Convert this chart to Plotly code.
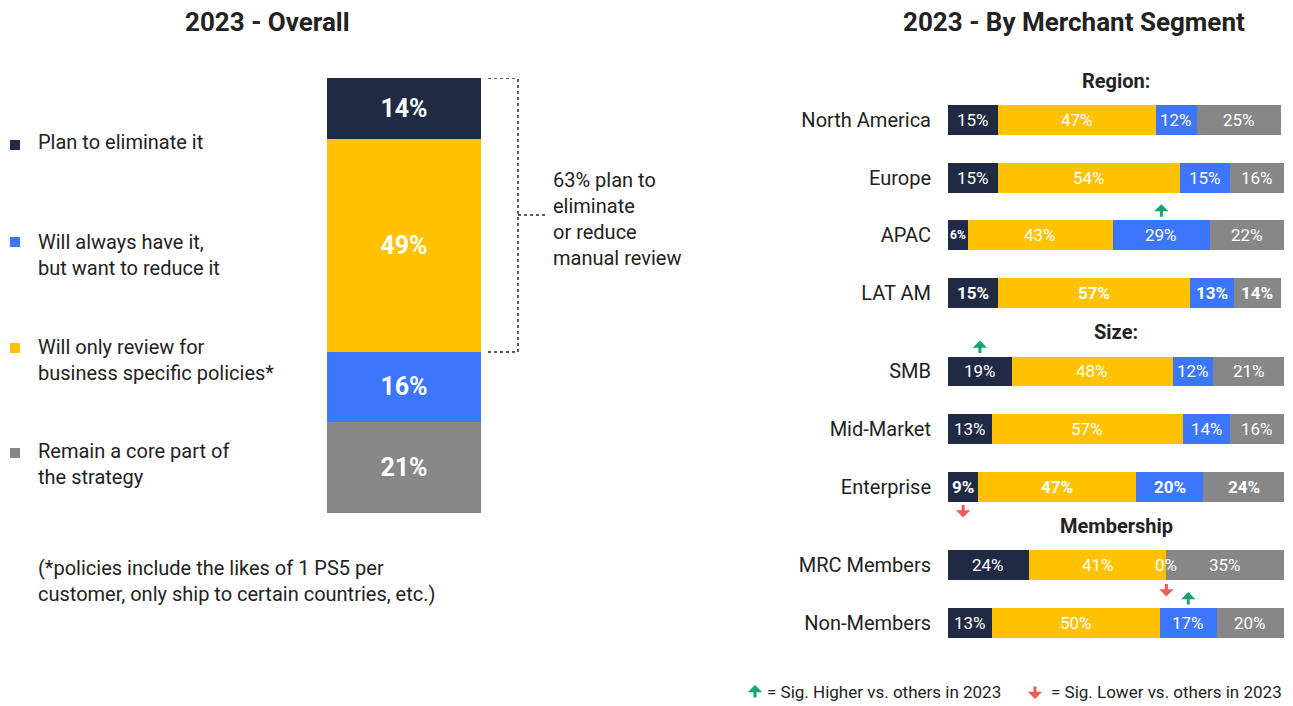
import plotly.graph_objects as go

# ---------------- data ----------------
series_names = [
    "Plan to eliminate it",
    "Will only review for business specific policies*",
    "Will always have it, but want to reduce it",
    "Remain a core part of the strategy",
]
series_colors = ["#212a45", "#ffc200", "#3b76fc", "#878787"]

overall_values = [14, 49, 16, 21]  # same order as series_names

segments = ["North America", "Europe", "APAC", "LAT AM",
            "SMB", "Mid-Market", "Enterprise",
            "MRC Members", "Non-Members"]
segment_group = [0, 0, 0, 0, 1, 1, 1, 2, 2]
group_titles = ["Region:", "Size:", "Membership"]

eliminate = [15, 15, 6, 15, 19, 13, 9, 24, 13]
only_review = [47, 54, 43, 57, 48, 57, 47, 41, 50]
reduce_it = [12, 15, 29, 13, 12, 14, 20, 0, 17]
core_part = [25, 16, 22, 14, 21, 16, 24, 35, 20]
segment_values = [eliminate, only_review, reduce_it, core_part]

bold_segments = ["LAT AM", "Enterprise"]

# significance markers: (segment, series index, direction)
sig_markers = [("APAC", 2, "up"), ("SMB", 0, "up"), ("Enterprise", 0, "down"),
               ("MRC Members", 2, "down"), ("Non-Members", 2, "up")]

legend_order = [0, 2, 1, 3]
legend_labels = ["Plan to eliminate it",
                 "Will always have it,<br>but want to reduce it",
                 "Will only review for<br>business specific policies*",
                 "Remain a core part of<br>the strategy"]

# ---------------- layout helpers ----------------
PAGE_W, PAGE_H = 1293, 706
OFF = 8  # default page body margin
W, H = PAGE_W, PAGE_H
FONT = "Roboto"
TXT = "#222222"
GREEN = "#17a673"
RED = "#f25a5a"


def px_x(p):
    return (p - OFF) / W


def px_y(p):
    return 1 - (p - OFF) / H


# row positions on the right axis (extra gap between groups)
row_pos = [i + 0.37 * g for i, g in enumerate(segment_group)]
ROW_PX = 57.55
TOP_ROW_PX = 120 - OFF
y2_range = [(H - TOP_ROW_PX) / ROW_PX, -TOP_ROW_PX / ROW_PX]
BAR_W = 0.52

fig = go.Figure()

# ---------------- left stacked column ----------------
for idx in [3, 2, 1, 0]:
    fig.add_trace(go.Bar(
        x=[0], y=[overall_values[idx]], width=[1],
        marker=dict(color=series_colors[idx], line=dict(width=0)),
        text=[f"<b>{overall_values[idx]}%</b>"], textposition="inside",
        insidetextanchor="middle",
        textfont=dict(family=FONT, size=25, color="white"),
        xaxis="x", yaxis="y", showlegend=False, name=series_names[idx],
    ))

# ---------------- right stacked bars ----------------
for s in range(4):
    fig.add_trace(go.Bar(
        y=row_pos, x=segment_values[s], width=[BAR_W] * len(segments),
        orientation="h",
        marker=dict(color=series_colors[s], line=dict(width=0)),
        xaxis="x2", yaxis="y2", showlegend=False, name=series_names[s],
    ))

annotations = []
shapes = []

# segment labels
for r, seg in enumerate(segments):
    cum = 0
    for s in range(4):
        v = segment_values[s][r]
        center = cum + v / 2
        cum += v
        small = 0 < v < 8
        label = f"{v}%"
        if seg in bold_segments or small:
            label = f"<b>{label}</b>"
        annotations.append(dict(
            x=center, y=row_pos[r], xref="x2", yref="y2", text=label,
            xanchor="center", yanchor="middle",
            showarrow=False, font=dict(family=FONT, size=12 if small else 17, color="white"),
        ))

# group headers
for g, title in enumerate(group_titles):
    first = segment_group.index(g)
    annotations.append(dict(
        x=50, y=row_pos[first] - 0.68, xref="x2", yref="y2", text=f"<b>{title}</b>",
        xanchor="center", yanchor="middle",
        showarrow=False, font=dict(family=FONT, size=20, color=TXT),
    ))

# significance arrows
ARROW = dict(text="", showarrow=True, ax=0, arrowhead=1, arrowsize=0.8, arrowwidth=3)
for seg, s, direction in sig_markers:
    r = segments.index(seg)
    start = sum(segment_values[k][r] for k in range(s))
    xc = start + segment_values[s][r] / 2
    off = BAR_W / 2 + 16 / ROW_PX
    if direction == "up":
        annotations.append(dict(x=xc, y=row_pos[r] - off, xref="x2", yref="y2",
                                ay=14, arrowcolor=GREEN, **ARROW))
    else:
        annotations.append(dict(x=xc, y=row_pos[r] + off, xref="x2", yref="y2",
                                ay=-14, arrowcolor=RED, **ARROW))

# titles
annotations.append(dict(x=px_x(267), y=px_y(22), xref="paper", yref="paper",
                        xanchor="center", yanchor="middle",
                        text="<b>2023 - Overall</b>", showarrow=False,
                        font=dict(family=FONT, size=26, color=TXT)))
annotations.append(dict(x=px_x(1074), y=px_y(22), xref="paper", yref="paper",
                        xanchor="center", yanchor="middle",
                        text="<b>2023 - By Merchant Segment</b>", showarrow=False,
                        font=dict(family=FONT, size=26, color=TXT)))

# left legend
legend_text_y = [142, 255.5, 359.5, 464]
legend_sq_y = [145, 242, 348, 453]
for k, si in enumerate(legend_order):
    annotations.append(dict(x=px_x(36), y=px_y(legend_text_y[k]), xref="paper", yref="paper",
                            xanchor="left", yanchor="middle", align="left",
                            text=legend_labels[k], showarrow=False,
                            font=dict(family=FONT, size=20, color=TXT)))
    shapes.append(dict(type="rect", xref="paper", yref="paper",
                       x0=px_x(10), x1=px_x(20),
                       y0=px_y(legend_sq_y[k] - 5), y1=px_y(legend_sq_y[k] + 5),
                       fillcolor=series_colors[si], line=dict(width=0)))

# footnote
annotations.append(dict(x=px_x(36), y=px_y(581), xref="paper", yref="paper",
                        xanchor="left", yanchor="middle", align="left",
                        text="(*policies include the likes of 1 PS5 per<br>customer, only ship to certain countries, etc.)",
                        showarrow=False, font=dict(family=FONT, size=20, color=TXT)))

# bracket for eliminate + reduce
top_val = sum(overall_values)
bottom_val = overall_values[2] + overall_values[3]
mid_val = (top_val + bottom_val) / 2
bracket_line = dict(color="#565b6e", width=2, dash="dot")
shapes.append(dict(type="line", xref="paper", yref="y", x0=px_x(488), x1=px_x(518),
                   y0=top_val, y1=top_val, line=bracket_line))
shapes.append(dict(type="line", xref="paper", yref="y", x0=px_x(488), x1=px_x(518),
                   y0=bottom_val, y1=bottom_val, line=bracket_line))
shapes.append(dict(type="line", xref="paper", yref="y", x0=px_x(518), x1=px_x(518),
                   y0=bottom_val, y1=top_val, line=bracket_line))
shapes.append(dict(type="line", xref="paper", yref="y", x0=px_x(518), x1=px_x(548),
                   y0=mid_val, y1=mid_val, line=bracket_line))
annotations.append(dict(x=px_x(551), y=mid_val - 1, xref="paper", yref="y",
                        xanchor="left", yanchor="middle", align="left",
                        text=f"{overall_values[0] + overall_values[1]}% plan to<br>eliminate<br>or reduce<br>manual review",
                        showarrow=False, font=dict(family=FONT, size=20, color=TXT)))

# bottom significance legend
annotations.append(dict(x=px_x(755), y=px_y(685), xref="paper", yref="paper",
                        ay=14, arrowcolor=GREEN, **ARROW))
annotations.append(dict(x=px_x(765), y=px_y(692), xref="paper", yref="paper",
                        xanchor="left", yanchor="middle", text="= Sig. Higher vs. others in 2023",
                        showarrow=False, font=dict(family=FONT, size=17, color=TXT)))
annotations.append(dict(x=px_x(1035), y=px_y(699), xref="paper", yref="paper",
                        ay=-14, arrowcolor=RED, **ARROW))
annotations.append(dict(x=px_x(1049), y=px_y(692), xref="paper", yref="paper",
                        xanchor="left", yanchor="middle", text="= Sig. Lower vs. others in 2023",
                        showarrow=False, font=dict(family=FONT, size=17, color=TXT)))

fig.update_layout(
    width=W, height=H,
    margin=dict(l=0, r=0, t=0, b=0),
    paper_bgcolor="white", plot_bgcolor="white",
    barmode="stack",
    showlegend=False,
    font=dict(family=FONT, color=TXT),
    xaxis=dict(domain=[px_x(327), px_x(481)], range=[-0.5, 0.5], visible=False,
               anchor="y", fixedrange=True),
    yaxis=dict(domain=[px_y(513), px_y(78)], range=[0, 100], visible=False,
               anchor="x", fixedrange=True),
    xaxis2=dict(domain=[px_x(948), px_x(1284)], range=[0, 100], visible=False,
                anchor="y2", fixedrange=True),
    yaxis2=dict(domain=[0, 1], range=y2_range, anchor="x2",
                tickvals=row_pos, ticktext=segments,
                ticks="outside", ticklen=12, tickcolor="rgba(0,0,0,0)",
                showgrid=False, zeroline=False, showline=False,
                tickfont=dict(family=FONT, size=20, color=TXT), fixedrange=True),
    annotations=annotations,
    shapes=shapes,
)

fig.write_html("out.html")
